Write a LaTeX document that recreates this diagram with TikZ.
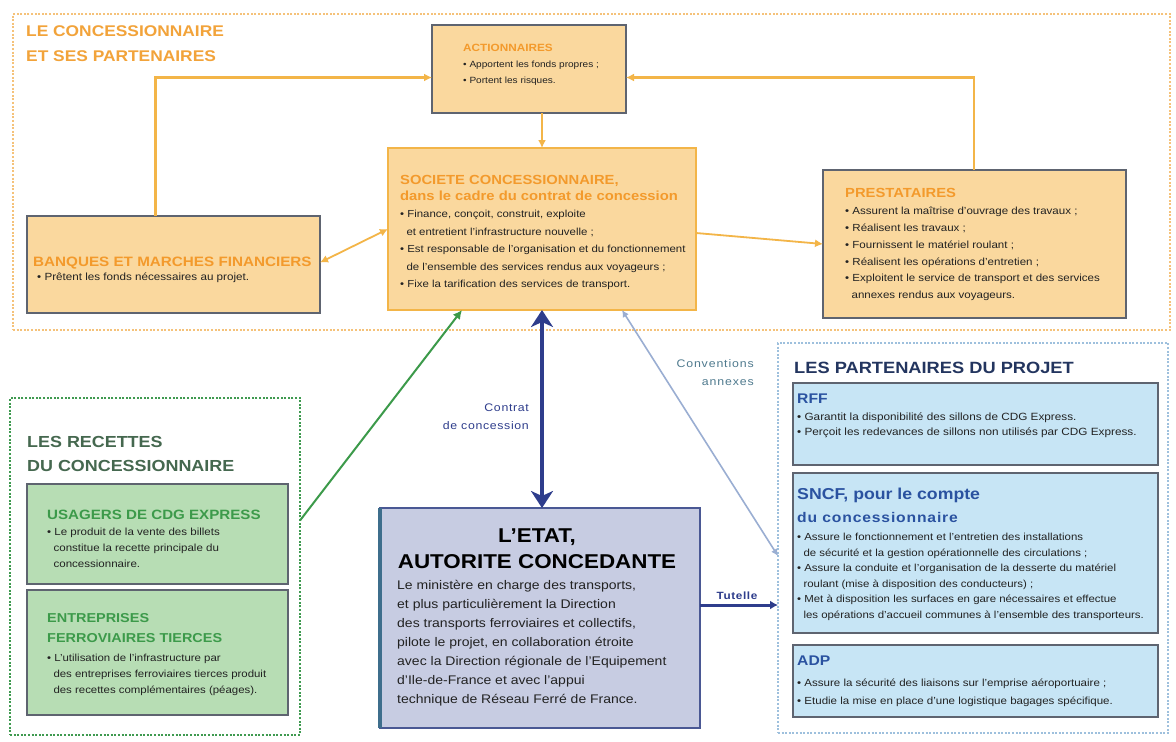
\documentclass[tikz,border=0pt]{standalone}
\usepackage{fontspec}
\setmainfont{Liberation Sans}[FakeStretch=1.12]
\usetikzlibrary{arrows.meta,calc}
\definecolor{orTitle}{HTML}{F2A33A}
\definecolor{orHead}{HTML}{F39A2C}
\definecolor{orFill}{HTML}{FAD89E}
\definecolor{orLine}{HTML}{F3B548}
\definecolor{orFrame}{HTML}{F5C27A}
\definecolor{boxEdge}{HTML}{5E6470}
\definecolor{grFill}{HTML}{B7DDB4}
\definecolor{grHead}{HTML}{3C9A4A}
\definecolor{grTitle}{HTML}{45684F}
\definecolor{grFrame}{HTML}{3F9A50}
\definecolor{blFill}{HTML}{C7E5F5}
\definecolor{blHead}{HTML}{2A52A0}
\definecolor{blTitle}{HTML}{23355F}
\definecolor{blFrame}{HTML}{9EC0DD}
\definecolor{stFill}{HTML}{C7CCE2}
\definecolor{stEdge}{HTML}{4A5894}
\definecolor{stLeft}{HTML}{3E6E8C}
\definecolor{navy}{HTML}{2E3D8C}
\definecolor{conv}{HTML}{9AAED2}
\definecolor{convTxt}{HTML}{4F7A8E}
\definecolor{txt}{HTML}{222222}
\newcommand{\ind}{\hspace*{0.62em}}
\tikzset{
  frame/.style={draw, line width=2pt, dash pattern=on 2pt off 1.6pt, anchor=north west, inner sep=0, outer sep=0},
  box/.style={draw=boxEdge, line width=1.5pt, anchor=north west, inner sep=0, outer sep=0},
  obox/.style={box, fill=orFill},
  gbox/.style={box, fill=grFill},
  bbox/.style={box, fill=blFill},
  blk/.style={anchor=north west, inner sep=0, align=left, text=txt},
  orarrow/.style={draw=orLine, line width=2.2pt, -{Latex[length=8pt,width=8pt]}},
}
\begin{document}
\begin{tikzpicture}[x=1pt,y=-1pt]
\useasboundingbox (0,0) rectangle (1176,742);
\fill[white] (0,0) rectangle (1176,742);

% frames
\node[frame, draw=orFrame, minimum width=1157pt, minimum height=316pt] (frameC) at (13,14) {};
\node[frame, draw=grFrame, line width=2.5pt, minimum width=290pt, minimum height=337pt] (frameR) at (10,398) {};
\node[frame, draw=blFrame, minimum width=390pt, minimum height=390pt] (frameP) at (778,343) {};

% boxes
\node[obox, minimum width=194pt, minimum height=88pt] (act) at (432,25) {};
\node[obox, draw=orLine, line width=2pt, minimum width=308pt, minimum height=162pt] (soc) at (388,148) {};
\node[obox, minimum width=293pt, minimum height=97pt] (banq) at (27,216) {};
\node[obox, minimum width=303pt, minimum height=148pt] (prest) at (823,170) {};
\node[gbox, minimum width=261pt, minimum height=100pt] (usag) at (27,484) {};
\node[gbox, minimum width=261pt, minimum height=125pt] (entr) at (27,590) {};
\node[box, draw=stEdge, line width=2.5pt, fill=stFill, minimum width=320pt, minimum height=220pt] (etat) at (380,508) {};
\draw[stLeft, line width=4pt] (etat.north west) -- (etat.south west);
\node[bbox, minimum width=365pt, minimum height=82pt] (rff) at (793,383) {};
\node[bbox, minimum width=365pt, minimum height=160pt] (sncf) at (793,473) {};
\node[bbox, minimum width=365pt, minimum height=72pt] (adp) at (793,645) {};

% texts: concessionnaire
\node[blk, text=orTitle, font=\fontsize{15.5}{25.5}\selectfont\bfseries] (tC) at (26,25) {LE CONCESSIONNAIRE\\ET SES PARTENAIRES};
\node[blk, text=orHead, font=\fontsize{10.5}{12}\selectfont\bfseries] (hAct) at (463,44) {ACTIONNAIRES};
\node[blk, font=\fontsize{9}{16}\selectfont] (bAct) at (463,60.5) {• Apportent les fonds propres ;\\• Portent les risques.};
\node[blk, text=orHead, font=\fontsize{13.2}{16}\selectfont\bfseries] (hSoc) at (400,175.5) {SOCIETE CONCESSIONNAIRE,\\dans le cadre du contrat de concession};
\node[blk, font=\fontsize{10.2}{17.5}\selectfont] (bSoc) at (400,210) {• Finance, conçoit, construit, exploite\\\ind et entretient l'infrastructure nouvelle ;\\• Est responsable de l'organisation et du fonctionnement\\\ind de l'ensemble des services rendus aux voyageurs ;\\• Fixe la tarification des services de transport.};
\node[blk, text=orHead, font=\fontsize{13.6}{16}\selectfont\bfseries] (hBanq) at (33,256.5) {BANQUES ET MARCHES FINANCIERS};
\node[blk, font=\fontsize{10.4}{16}\selectfont] (bBanq) at (37,273) {• Prêtent les fonds nécessaires au projet.};
\node[blk, text=orHead, font=\fontsize{13.2}{16}\selectfont\bfseries] (hPrest) at (845,188) {PRESTATAIRES};
\node[blk, font=\fontsize{10.3}{16.8}\selectfont] (bPrest) at (845,207) {• Assurent la maîtrise d'ouvrage des travaux ;\\• Réalisent les travaux ;\\• Fournissent le matériel roulant ;\\• Réalisent les opérations d'entretien ;\\• Exploitent le service de transport et des services\\\ind annexes rendus aux voyageurs.};

% texts: recettes
\node[blk, text=grTitle, font=\fontsize{16}{24}\selectfont\bfseries] (tR) at (27,436.5) {LES RECETTES\\DU CONCESSIONNAIRE};
\node[blk, text=grHead, font=\fontsize{13.5}{16}\selectfont\bfseries] (hUsag) at (47,509.5) {USAGERS DE CDG EXPRESS};
\node[blk, font=\fontsize{10.3}{16}\selectfont] (bUsag) at (47,528) {• Le produit de la vente des billets\\\ind constitue la recette principale du\\\ind concessionnaire.};
\node[blk, text=grHead, font=\fontsize{12.9}{20}\selectfont\bfseries] (hEntr) at (47,613.5) {ENTREPRISES\\FERROVIAIRES TIERCES};
\node[blk, font=\fontsize{10.2}{16}\selectfont] (bEntr) at (47,654) {• L'utilisation de l'infrastructure par\\\ind des entreprises ferroviaires tierces produit\\\ind des recettes complémentaires (péages).};

% texts: etat
\node[anchor=north, inner sep=0, align=center, text=black, font=\fontsize{20}{26}\selectfont\bfseries] (tEtat) at (537,529) {L'ETAT,\\AUTORITE CONCEDANTE};
\node[blk, font=\fontsize{12.5}{19}\selectfont] (bEtat) at (397,580) {Le ministère en charge des transports,\\et plus particulièrement la Direction\\des transports ferroviaires et collectifs,\\pilote le projet, en collaboration étroite\\avec la Direction régionale de l'Equipement\\d'Ile-de-France et avec l'appui\\technique de Réseau Ferré de France.};

% texts: partenaires
\node[blk, text=blTitle, font=\fontsize{16.3}{18}\selectfont\bfseries] (tP) at (794,361.5) {LES PARTENAIRES DU PROJET};
\node[blk, text=blHead, font=\fontsize{14}{16}\selectfont\bfseries] (hRff) at (797,393.5) {RFF};
\node[blk, font=\fontsize{10.5}{15}\selectfont] (bRff) at (797,413) {• Garantit la disponibilité des sillons de CDG Express.\\• Perçoit les redevances de sillons non utilisés par CDG Express.};
\node[blk, text=blHead, font=\fontsize{15.8}{18}\selectfont\bfseries] (hSncf) at (797,488) {SNCF, pour le compte};
\node[blk, text=blHead, font=\fontsize{14}{16}\selectfont\bfseries\addfontfeatures{LetterSpace=6}] (hSncf2) at (797,512) {du concessionnaire};
\node[blk, font=\fontsize{10.2}{15.6}\selectfont] (bSncf) at (797,533) {• Assure le fonctionnement et l'entretien des installations\\\ind de sécurité et la gestion opérationnelle des circulations ;\\• Assure la conduite et l'organisation de la desserte du matériel\\\ind roulant (mise à disposition des conducteurs) ;\\• Met à disposition les surfaces en gare nécessaires et effectue\\\ind les opérations d'accueil communes à l'ensemble des transporteurs.};
\node[blk, text=blHead, font=\fontsize{14}{16}\selectfont\bfseries] (hAdp) at (797,655.5) {ADP};
\node[blk, font=\fontsize{10.3}{18}\selectfont] (bAdp) at (797,678.5) {• Assure la sécurité des liaisons sur l'emprise aéroportuaire ;\\• Etudie la mise en place d'une logistique bagages spécifique.};

% connectors
\draw[orarrow] ([xshift=-18pt]banq.north) |- ([yshift=-8.5pt]act.west);
\draw[orarrow] ([xshift=-0.5pt]prest.north) |- ([yshift=-8.5pt]act.east);
\draw[orarrow, line width=1.6pt] (act.south -| soc.north) -- (soc.north);
\draw[orarrow, line width=1.8pt, {Latex[length=8pt,width=8pt]}-{Latex[length=8pt,width=8pt]}] ([yshift=2pt]banq.east) -- (soc.west);
\draw[orarrow, line width=1.8pt] ([yshift=-4pt]soc.east) -- (prest.west);
\draw[draw=grHead, line width=2pt, -{Latex[length=9pt,width=9pt]}] ([yshift=46pt]frameR.east) -- ([xshift=-80pt]soc.south);
\draw[draw=navy, line width=4.5pt, {Stealth[length=17pt,width=22pt,inset=5pt]}-{Stealth[length=17pt,width=22pt,inset=5pt]}] (soc.south) -- (soc.south |- etat.north);
\draw[draw=conv, line width=1.6pt, {Latex[length=7pt,width=7pt]}-{Latex[length=7pt,width=7pt]}] ([xshift=80pt]soc.south) -- ([yshift=-18pt]frameP.west);
\draw[draw=navy, line width=3pt, -{Latex[length=8pt,width=9pt]}] ([yshift=13pt]etat.east) -- ([yshift=13pt]etat.east -| frameP.west);

% labels
\node[anchor=east, inner sep=0, align=right, text=navy, font=\fontsize{11}{18}\selectfont\addfontfeatures{LetterSpace=6}] (lCon) at (529,417) {Contrat\\de concession};
\node[anchor=east, inner sep=0, align=right, text=convTxt, font=\fontsize{11}{18}\selectfont\addfontfeatures{LetterSpace=8}] (lConv) at (754,373) {Conventions\\annexes};
\node[inner sep=0, text=navy, font=\fontsize{10.5}{12}\selectfont\bfseries\addfontfeatures{LetterSpace=6}] (lTut) at (737,596) {Tutelle};
\end{tikzpicture}
\end{document}
